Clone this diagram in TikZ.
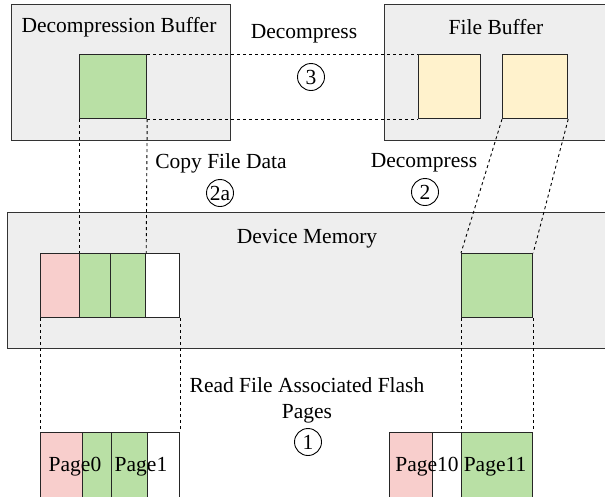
\documentclass[tikz,border=0pt]{standalone}
\usepackage{fontspec}
\setmainfont{Liberation Serif}

\definecolor{RegionGray}{HTML}{EEEEEE}
\definecolor{CopyGreen}{HTML}{B9E0A5}
\definecolor{FileYellow}{HTML}{FFF2CC}
\definecolor{OtherPink}{HTML}{F8CECC}

\begin{document}
\begin{tikzpicture}[x=1pt, y=-1pt,
  every node/.style={font=\rmfamily\fontsize{21.5}{26}\selectfont},
  region/.style={draw=black!80, fill=RegionGray, line width=1pt, anchor=north west, inner sep=0pt},
  blk/.style={draw=black!85, line width=1.2pt, anchor=north west, inner sep=0pt, minimum height=64},
  pg/.style={draw=black!85, line width=1.2pt, anchor=north west, inner sep=0pt, minimum height=70},
  stepnum/.style={draw, circle, line width=0.9pt, inner sep=0pt, minimum size=27},
  link/.style={dashed, dash pattern=on 3pt off 3pt, line width=0.9pt}]

\useasboundingbox (0,0) rectangle (605,496);
\clip (0,0) rectangle (605,496);

% Regions
\node[region, minimum width=219, minimum height=136] (decbuf) at (11,4) {};
\node[region, minimum width=240, minimum height=136] (filebuf) at (384,4) {};
\node[region, minimum width=620, minimum height=136] (devmem) at (7,212) {};

\node[] (decbuflbl) at (119,27) {Decompression Buffer};
\node[] (filebuflbl) at (496,27) {File Buffer};
\node[] (devmemlbl) at (307,239) {Device Memory};

% Buffers
\node[blk, fill=CopyGreen, minimum width=67] (decgreen) at (79,54) {};
\node[blk, fill=FileYellow, minimum width=62] (fileA) at (418,54) {};
\node[blk, fill=FileYellow, minimum width=65] (fileB) at (502,54) {};

% Device memory pages
\node[blk, fill=OtherPink, minimum width=39] (memA) at (40,253) {};
\node[blk, fill=CopyGreen, minimum width=31] (memB) at (79,253) {};
\node[blk, fill=CopyGreen, minimum width=35] (memC) at (110,253) {};
\node[blk, fill=white, minimum width=34] (memD) at (145,253) {};
\node[blk, fill=CopyGreen, minimum width=71] (memE) at (461,253) {};

% Flash pages
\node[pg, fill=OtherPink, minimum width=42] (flashA) at (40,432) {};
\node[pg, fill=CopyGreen, minimum width=29] (flashB) at (82,432) {};
\node[pg, fill=CopyGreen, minimum width=36] (flashC) at (111,432) {};
\node[pg, fill=white, minimum width=32] (flashD) at (147,432) {};
\node[pg, fill=OtherPink, minimum width=43] (flashE) at (389,432) {};
\node[pg, fill=white, minimum width=29] (flashF) at (432,432) {};
\node[pg, fill=CopyGreen, minimum width=71] (flashG) at (461,432) {};

\node[] (pagezero) at (75,467) {Page0};
\node[] (pageone) at (141,467) {Page1};
\node[] (pageten) at (427,467) {Page10};
\node[] (pageeleven) at (495,467) {Page11};

% Dashed links
\draw[link] (decgreen.north east) -- (fileA.north west);
\draw[link] (decgreen.south east) -- (fileA.south west);
\draw[link] (decgreen.south west) -- (memB.north west);
\draw[link] (decgreen.south east) -- (memC.north east);
\draw[link] (fileB.south west) -- (memE.north west);
\draw[link] (fileB.south east) -- (memE.north east);
\draw[link] (memA.south west) -- (flashA.north west);
\draw[link] (memD.south east) -- (flashD.north east);
\draw[link] (memE.south west) -- (flashG.north west);
\draw[link] (memE.south east) -- (flashG.north east);

% Steps
\node[] (decomplbl) at (304,34) {Decompress};
\node[stepnum] (stepthree) at (311,77) {3};
\node[] (copylbl) at (221,163) {Copy File Data};
\node[stepnum] (steptwoa) at (220,193) {2a};
\node[] (decomptwolbl) at (424,163) {Decompress};
\node[stepnum] (steptwo) at (425,192) {2};
\node[align=center] (readlbl) at (307,400) {Read File Associated Flash\\Pages};
\node[stepnum] (stepone) at (308,442) {1};

\end{tikzpicture}
\end{document}
